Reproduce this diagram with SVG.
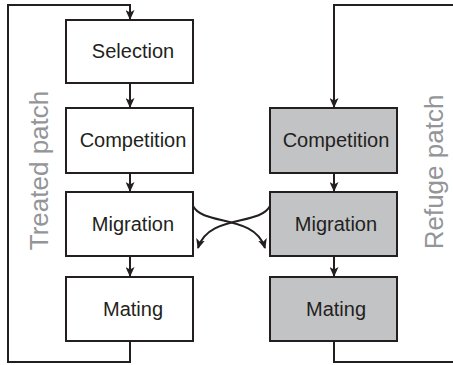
<svg xmlns="http://www.w3.org/2000/svg" width="453" height="365" viewBox="0 0 453 365">
<style>
.box{stroke:#231f20;stroke-width:2;}
.w{fill:#ffffff;}
.g{fill:#c2c3c5;}
.lbl{font-family:"Liberation Sans",Arial,sans-serif;font-size:20px;fill:#231f20;text-anchor:middle;}
.side{font-family:"Liberation Sans",Arial,sans-serif;font-size:26px;fill:#939598;text-anchor:middle;}
.c{fill:none;stroke:#231f20;stroke-width:2;}
</style>
<defs>
<marker id="ah" markerUnits="userSpaceOnUse" markerWidth="10" markerHeight="9" viewBox="0 0 10 9" refX="9" refY="4.5" orient="auto">
<path d="M0,0 L10,4.5 L0,9 L2.5,4.5 z" fill="#231f20"/>
</marker>
</defs>
<g id="connectors">
<path class="c" d="M130,341 V362 H8 V5 H130 V19" marker-end="url(#ah)"/>
<path class="c" d="M130,83 V107" marker-end="url(#ah)"/>
<path class="c" d="M130,173 V191" marker-end="url(#ah)"/>
<path class="c" d="M130,256 V276" marker-end="url(#ah)"/>
<path class="c" d="M334,341 V362 H455"/>
<path class="c" d="M455,5 H334 V107" marker-end="url(#ah)"/>
<path class="c" d="M334,173 V191" marker-end="url(#ah)"/>
<path class="c" d="M334,256 V276" marker-end="url(#ah)"/>
<path class="c" d="M193,206 C203,226 255,214 265,248" marker-end="url(#ah)"/>
<path class="c" d="M270,206 C260,226 208,214 198,248" marker-end="url(#ah)"/>
</g>
<g id="selection"><rect class="box w" x="66" y="20" width="127" height="63"/><text class="lbl" x="133" y="58">Selection</text></g>
<g id="competition-treated"><rect class="box w" x="66" y="108" width="127" height="65"/><text class="lbl" x="133" y="147">Competition</text></g>
<g id="migration-treated"><rect class="box w" x="66" y="192" width="127" height="64"/><text class="lbl" x="133" y="231">Migration</text></g>
<g id="mating-treated"><rect class="box w" x="66" y="277" width="127" height="64"/><text class="lbl" x="133" y="316">Mating</text></g>
<g id="competition-refuge"><rect class="box g" x="270" y="108" width="127" height="65"/><text class="lbl" x="336" y="147">Competition</text></g>
<g id="migration-refuge"><rect class="box g" x="270" y="192" width="127" height="64"/><text class="lbl" x="336" y="231">Migration</text></g>
<g id="mating-refuge"><rect class="box g" x="270" y="277" width="127" height="64"/><text class="lbl" x="336" y="316">Mating</text></g>
<g id="label-treated"><text class="side" transform="translate(48,170.5) rotate(-90)">Treated patch</text></g>
<g id="label-refuge"><text class="side" transform="translate(443,172) rotate(-90)">Refuge patch</text></g>
</svg>
